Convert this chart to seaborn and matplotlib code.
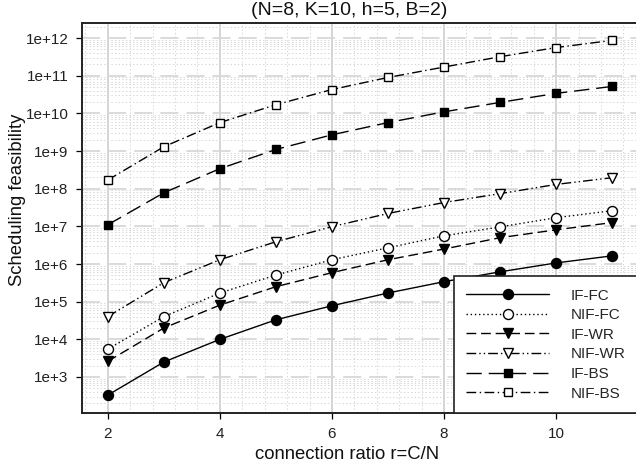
import matplotlib
matplotlib.use("Agg")
import matplotlib.pyplot as plt
import matplotlib.ticker as mticker
import numpy as np
import pandas as pd
import seaborn as sns

# connection ratio r = C/N
ratio = [2, 3, 4, 5, 6, 7, 8, 9, 10, 11]

# scheduling feasibility per scheme
if_fc = [330, 2.5e3, 1.0e4, 3.3e4, 7.8e4, 1.7e5, 3.4e5, 6.2e5, 1.07e6, 1.65e6]
nif_fc = [5.5e3, 4.0e4, 1.7e5, 5.1e5, 1.3e6, 2.7e6, 5.6e6, 9.7e6, 1.7e7, 2.6e7]
if_wr = [2.6e3, 2.0e4, 8.1e4, 2.5e5, 5.9e5, 1.3e6, 2.5e6, 5.0e6, 8.1e6, 1.26e7]
nif_wr = [4.0e4, 3.2e5, 1.3e6, 3.9e6, 9.8e6, 2.2e7, 4.3e7, 7.4e7, 1.3e8, 1.96e8]
if_bs = [1.1e7, 7.8e7, 3.4e8, 1.1e9, 2.7e9, 5.7e9, 1.1e10, 1.96e10, 3.4e10, 5.2e10]
nif_bs = [1.7e8, 1.3e9, 5.7e9, 1.7e10, 4.3e10, 9.0e10, 1.7e11, 3.2e11, 5.6e11, 8.7e11]

series_names = ["IF-FC", "NIF-FC", "IF-WR", "NIF-WR", "IF-BS", "NIF-BS"]
series_values = [if_fc, nif_fc, if_wr, nif_wr, if_bs, nif_bs]

x_ticks = [2, 4, 6, 8, 10]
y_tick_exponents = [3, 4, 5, 6, 7, 8, 9, 10, 11, 12]
y_tick_labels = [f"1e+{e}" for e in y_tick_exponents]

title_text = "(N=8, K=10, h=5, B=2)"
x_label = "connection ratio r=C/N"
y_label = "Scheduling feasibility"

sns.set_style("white")
plt.rcParams["font.family"] = ["Liberation Sans", "DejaVu Sans"]
plt.rcParams["lines.scale_dashes"] = False

# line style and marker per scheme
styles = {
    "IF-FC": dict(linestyle="-", marker="o", mfc="black", ms=7.2),
    "NIF-FC": dict(linestyle=(0, (1, 2)), marker="o", mfc="white", ms=7.2),
    "IF-WR": dict(linestyle=(0, (7, 3.5)), marker="v", mfc="black", ms=7.5),
    "NIF-WR": dict(linestyle=(0, (7, 2.2, 1, 2.2, 1, 2.2)), marker="v", mfc="white", ms=7.5),
    "IF-BS": dict(linestyle=(0, (11, 5)), marker="s", mfc="black", ms=6.3),
    "NIF-BS": dict(linestyle=(0, (7, 2.5, 1, 2.5)), marker="s", mfc="white", ms=6.3),
}

frames = []
for name, vals in zip(series_names, series_values):
    frames.append(pd.DataFrame({"ratio": ratio, "feasibility": vals, "scheme": name}))
df = pd.concat(frames, ignore_index=True)

W, H = 636, 466
fig = plt.figure(figsize=(W / 100, H / 100), dpi=100)
ax_left, ax_right, ax_top, ax_bottom = 82, 638, 23, 413
ax = fig.add_axes([ax_left / W, 1 - ax_bottom / H,
                   (ax_right - ax_left) / W, (ax_bottom - ax_top) / H])

for name in series_names:
    st = styles[name]
    sub = df[df["scheme"] == name]
    sns.lineplot(data=sub, x="ratio", y="feasibility", ax=ax, color="black",
                 linestyle=st["linestyle"], linewidth=1.0, marker=st["marker"],
                 markersize=st["ms"], markerfacecolor=st["mfc"],
                 markeredgecolor="black", markeredgewidth=1.0,
                 label=name, legend=False, zorder=3)

ax.set_yscale("log")
ax.set_xlim(1.54, 11.46)
ax.set_ylim(10 ** 2.044, 10 ** 12.40)

ax.xaxis.set_major_locator(mticker.FixedLocator(x_ticks))
ax.xaxis.set_minor_locator(mticker.MultipleLocator(0.4))
ax.yaxis.set_major_locator(mticker.FixedLocator([10.0 ** e for e in y_tick_exponents]))
ax.yaxis.set_major_formatter(mticker.FixedFormatter(y_tick_labels))
ax.yaxis.set_minor_locator(mticker.LogLocator(base=10, subs=np.arange(2, 10), numticks=30))
ax.yaxis.set_minor_formatter(mticker.NullFormatter())

ax.tick_params(axis="both", which="major", direction="out", length=4.3, width=0.9,
               color="black", labelsize=11, pad=5.5, left=True, bottom=True,
               labelcolor="#222222")
ax.tick_params(axis="both", which="minor", length=0)

# background grid
ax.set_axisbelow(True)
ax.grid(axis="x", which="major", color="#d2d2d2", linewidth=1.3, linestyle="-")
ax.grid(axis="y", which="major", color="#d8d8d8", linewidth=1.3, linestyle=(0, (13, 5.8)))
ax.grid(axis="both", which="minor", color="#d6d6d6", linewidth=0.7, linestyle=(0, (1, 1.6)))

for side in ["left", "top", "bottom", "right"]:
    ax.spines[side].set_color("#222222")
    ax.spines[side].set_linewidth(1.4)

ax.set_xlabel(x_label, fontsize=13.3, color="#111111")
ax.set_ylabel(y_label, fontsize=13.3, color="#111111")
ax.xaxis.set_label_coords((347 - ax_left) / (ax_right - ax_left),
                          (ax_bottom - 459) / (ax_bottom - ax_top))
ax.xaxis.label.set_va("baseline")
ax.yaxis.set_label_coords((22 - ax_left) / (ax_right - ax_left),
                          (ax_bottom - 200) / (ax_bottom - ax_top))
ax.yaxis.label.set_va("baseline")

fig.text(349 / W, 1 - 15 / H, title_text, ha="center", va="baseline",
         fontsize=14, color="#111111")

leg = ax.legend(loc="lower right", bbox_to_anchor=(1, 0), borderaxespad=0,
                fontsize=11, frameon=True, fancybox=False, framealpha=1,
                edgecolor="#222222", handlelength=5.4, handletextpad=1.45,
                borderpad=0.8, labelspacing=0.37, numpoints=1)
leg.get_frame().set_linewidth(1.2)

fig.savefig("out.png", dpi=100)
